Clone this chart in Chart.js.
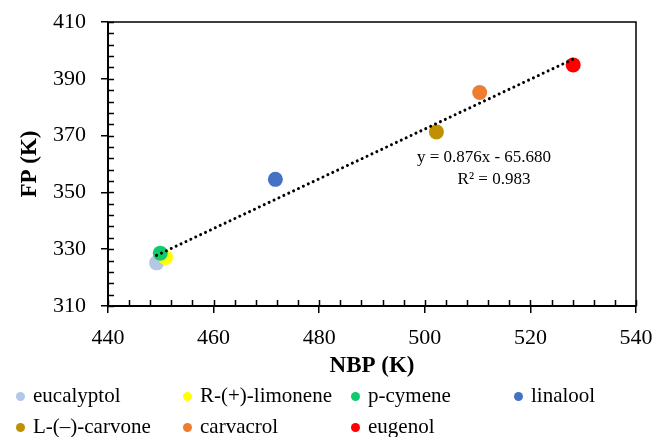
<!DOCTYPE html>
<html>
<head>
<meta charset="utf-8">
<script src="https://cdn.jsdelivr.net/npm/chart.js@4/dist/chart.umd.min.js"></script>
<style>
  body { margin: 0; background: #fff; }
  #wrap { position: relative; width: 655px; height: 437px; }
  #legend .item { position: absolute; font: 21px "Liberation Serif", "Times New Roman", serif; color: #000; white-space: nowrap; line-height: 24px; }
  #legend .dot { position: absolute; width: 9px; height: 9px; border-radius: 50%; }
</style>
</head>
<body>
<div id="wrap">
  <canvas id="chart" width="655" height="437"></canvas>
  <div id="legend"></div>
</div>
<script>
// values
const compounds = ['eucalyptol', 'R-(+)-limonene', 'p-cymene', 'linalool', 'L-(\u2013)-carvone', 'carvacrol', 'eugenol'];
const nbp = [449.2, 450.9, 449.9, 471.7, 502.2, 510.4, 528.1];
const fp = [325.2, 327.1, 328.6, 354.6, 371.3, 385.2, 394.9];
const colors = ['#B4C7E7', '#FFFF00', '#0FCB6B', '#4472C4', '#BF9000', '#ED7D31', '#FF0000'];
// linear trendline shown on the chart
const slope = 0.876;
const intercept = -65.680;
const r2 = 0.983;
const xTicks = [440, 460, 480, 500, 520, 540];
const yTicks = [310, 330, 350, 370, 390, 410];

const serif = '"Liberation Serif", "Times New Roman", serif';

// one dataset per compound, so each gets its own colour
const datasets = compounds.map((name, i) => ({
    label: name,
    data: [{ x: nbp[i], y: fp[i] }],
    backgroundColor: colors[i],
    borderColor: colors[i],
    pointRadius: 7.5,
    pointBorderWidth: 0,
    order: 10 - i
}));

const xMin = Math.min(...nbp);
const xMax = Math.max(...nbp);
datasets.push({
    type: 'line',
    label: 'trend',
    data: [{ x: xMin, y: slope * xMin + intercept }, { x: xMax, y: slope * xMax + intercept }],
    borderColor: '#000',
    borderWidth: 3,
    borderDash: [0.01, 5.4],
    borderCapStyle: 'round',
    pointRadius: 0,
    fill: false,
    order: 0
});

// box around the plot, minor ticks inside, and the trendline label
const frame = {
    id: 'frame',
    afterDraw(chart) {
        const { ctx, chartArea: a, scales: { x, y } } = chart;
        ctx.save();
        ctx.strokeStyle = '#000';
        ctx.lineWidth = 1.5;
        ctx.strokeRect(a.left, a.top, a.right - a.left, a.bottom - a.top);
        ctx.beginPath();
        for (let v = x.min; v <= x.max; v += 4) {
            const px = Math.round(x.getPixelForValue(v)) + 0.5;
            ctx.moveTo(px, a.bottom);
            ctx.lineTo(px, a.bottom - 6);
        }
        for (let v = y.min; v <= y.max; v += 4) {
            const py = Math.round(y.getPixelForValue(v)) + 0.5;
            ctx.moveTo(a.left, py);
            ctx.lineTo(a.left + 6, py);
        }
        ctx.stroke();
        // axis lines a bit heavier
        ctx.lineWidth = 2;
        ctx.beginPath();
        ctx.moveTo(a.left, a.top);
        ctx.lineTo(a.left, a.bottom);
        ctx.lineTo(a.right, a.bottom);
        ctx.stroke();

        ctx.fillStyle = '#000';
        ctx.font = '17px ' + serif;
        ctx.textAlign = 'center';
        ctx.textBaseline = 'middle';
        ctx.fillText('y = ' + slope.toFixed(3) + 'x - ' + Math.abs(intercept).toFixed(3), 484, 158);
        ctx.fillText('R\u00B2 = ' + r2.toFixed(3), 494, 180);
        ctx.restore();
    }
};

new Chart(document.getElementById('chart'), {
    type: 'scatter',
    data: { datasets: datasets },
    options: {
        responsive: false,
        animation: false,
        layout: { padding: { left: 0, top: 22, right: 19, bottom: 57 } },
        plugins: {
            legend: { display: false },
            tooltip: { enabled: false }
        },
        scales: {
            x: {
                type: 'linear',
                min: xTicks[0],
                max: xTicks[xTicks.length - 1],
                afterBuildTicks: s => { s.ticks = xTicks.map(v => ({ value: v })); },
                afterFit: s => { s.height = 74; s.paddingLeft = 0; s.paddingRight = 0; },
                border: { display: false },
                grid: { drawOnChartArea: false, drawTicks: true, tickLength: 7, color: '#000', lineWidth: 1.5 },
                ticks: { color: '#000', font: { family: serif, size: 22 }, padding: 12 },
                title: { display: true, text: 'NBP (K)', color: '#000', font: { family: serif, size: 23, weight: 'bold' }, padding: { top: 0, bottom: 0 } }
            },
            y: {
                type: 'linear',
                min: yTicks[0],
                max: yTicks[yTicks.length - 1],
                afterBuildTicks: s => { s.ticks = yTicks.map(v => ({ value: v })); },
                afterFit: s => { s.width = 108; s.paddingTop = 0; s.paddingBottom = 0; },
                border: { display: false },
                grid: { drawOnChartArea: false, drawTicks: true, tickLength: 7, color: '#000', lineWidth: 1.5 },
                ticks: { color: '#000', font: { family: serif, size: 22 }, padding: 15 },
                title: { display: true, text: 'FP (K)', color: '#000', font: { family: serif, size: 23, weight: 'bold' }, padding: { top: 16, bottom: 0 } }
            }
        }
    },
    plugins: [frame]
});

// legend laid out in a grid like the original
const colX = [20, 187, 355, 518];
const rowY = [396, 427];
const legend = document.getElementById('legend');
compounds.forEach((name, i) => {
    const cx = colX[i % 4];
    const cy = rowY[Math.floor(i / 4)];
    const dot = document.createElement('div');
    dot.className = 'dot';
    dot.style.background = colors[i];
    dot.style.left = (cx - 4.5) + 'px';
    dot.style.top = (cy - 4.5) + 'px';
    const item = document.createElement('div');
    item.className = 'item';
    item.textContent = name;
    item.style.left = (cx + 13) + 'px';
    item.style.top = (cy - 13) + 'px';
    legend.appendChild(dot);
    legend.appendChild(item);
});
</script>
</body>
</html>
